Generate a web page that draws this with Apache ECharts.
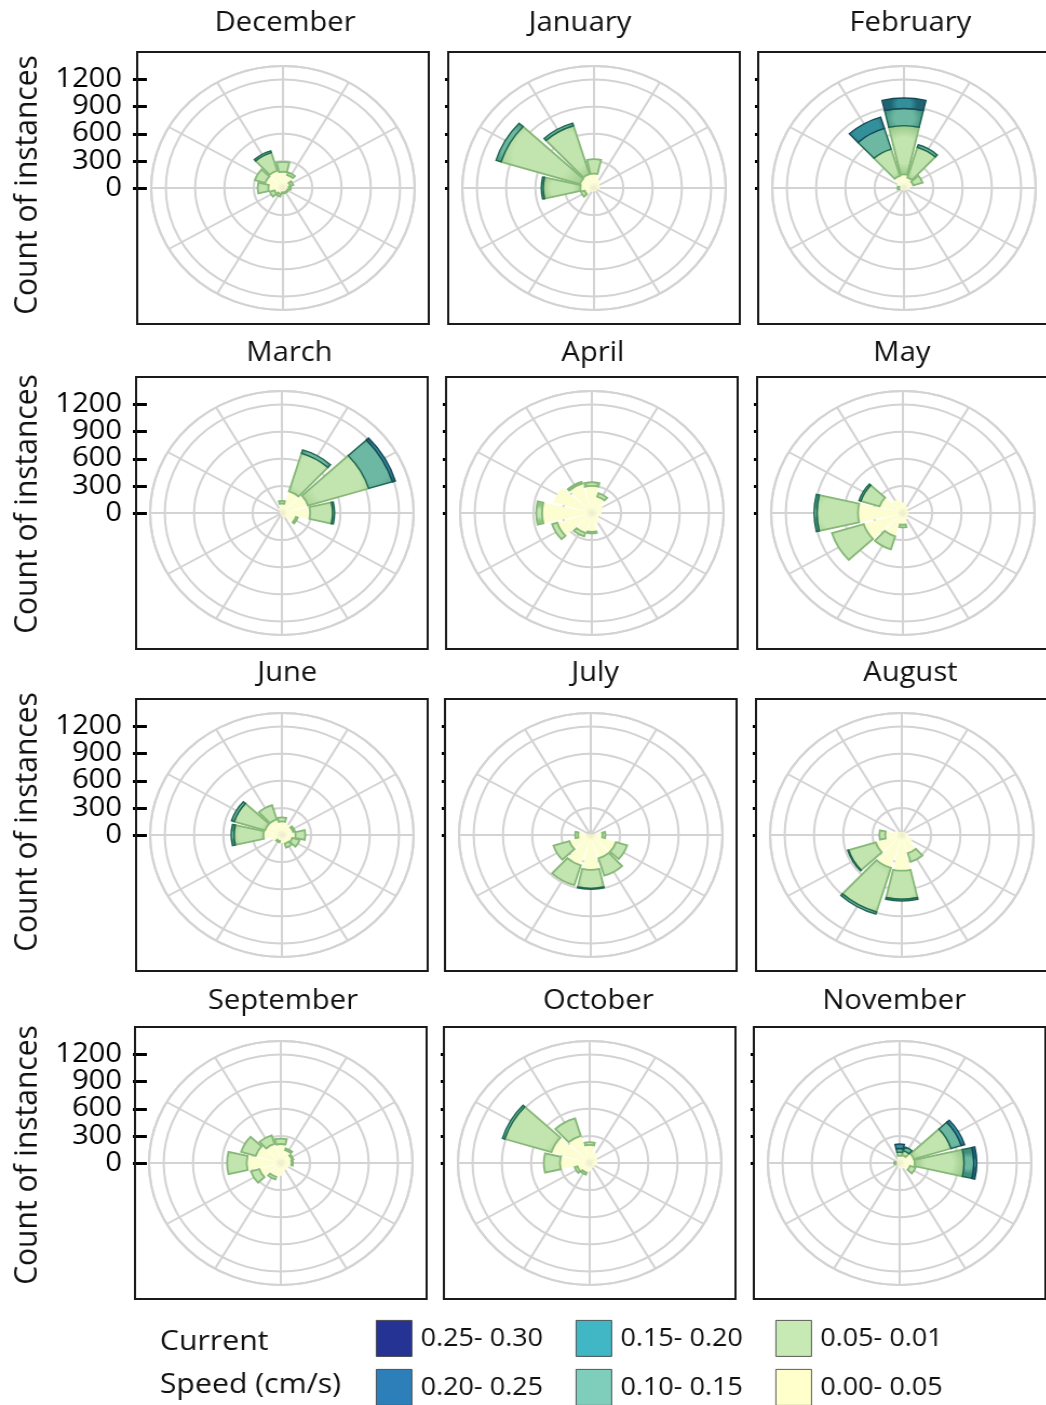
<!DOCTYPE html>
<html>
<head>
<meta charset="utf-8">
<title>Monthly current roses</title>
<script src="https://cdn.jsdelivr.net/npm/echarts@6.0.0/dist/echarts.min.js"></script>
<style>
  html, body { margin: 0; padding: 0; background: #fff; overflow: hidden; }
  #wrap { width: 1046px; height: 1405px; overflow: hidden; }
  /* the figure is laid out on a narrower canvas and widened horizontally */
  #chart { width: 969px; height: 1405px; transform: scaleX(1.08); transform-origin: 0 0; }
</style>
</head>
<body>
<div id="wrap"><div id="chart"></div></div>
<script>
// ---------------- data ----------------
const months = ['December', 'January', 'February', 'March', 'April', 'May',
                'June', 'July', 'August', 'September', 'October', 'November'];

// 30-degree direction sectors, clockwise from north
const sectors = ['0°', '30°', '60°', '90°', '120°', '150°', '180°', '210°', '240°', '270°', '300°', '330°'];

// current speed classes, slowest first (stacked from the centre outwards)
const speedBins = ['0.00- 0.05', '0.05- 0.01', '0.10- 0.15', '0.15- 0.20', '0.20- 0.25', '0.25- 0.30'];

// radial scale (count of instances)
const radialTicks = [0, 300, 600, 900, 1200];
const radialMax = 1350;

// counts per month: one row per speed class, one column per sector
const december = [
  [180, 150, 80, 60, 50, 50, 50, 70, 90, 150, 190, 200],
  [110, 30, 30, 20, 10, 10, 10, 30, 50, 110, 110, 210],
  [0, 0, 0, 0, 0, 0, 0, 0, 0, 0, 0, 20],
  [0, 0, 0, 0, 0, 0, 0, 0, 0, 0, 0, 0],
  [0, 0, 0, 0, 0, 0, 0, 0, 0, 0, 0, 0],
  [0, 0, 0, 0, 0, 0, 0, 0, 0, 0, 0, 0]
];
const january = [
  [160, 100, 70, 60, 40, 40, 40, 50, 100, 140, 150, 160],
  [160, 0, 0, 0, 0, 0, 0, 0, 40, 380, 845, 560],
  [0, 0, 0, 0, 0, 0, 0, 0, 0, 20, 55, 30],
  [0, 0, 0, 0, 0, 0, 0, 0, 0, 0, 0, 0],
  [0, 0, 0, 0, 0, 0, 0, 0, 0, 0, 0, 0],
  [0, 0, 0, 0, 0, 0, 0, 0, 0, 0, 0, 0]
];
const february = [
  [150, 120, 100, 60, 40, 30, 30, 30, 40, 50, 80, 140],
  [540, 350, 100, 0, 0, 0, 0, 0, 0, 15, 0, 310],
  [190, 30, 0, 0, 0, 0, 0, 0, 0, 0, 0, 240],
  [115, 0, 0, 0, 0, 0, 0, 0, 0, 0, 0, 130],
  [0, 0, 0, 0, 0, 0, 0, 0, 0, 0, 0, 0],
  [0, 0, 0, 0, 0, 0, 0, 0, 0, 0, 0, 0]
];
const march = [
  [105, 250, 280, 290, 150, 60, 40, 20, 20, 20, 30, 60],
  [30, 440, 650, 230, 20, 0, 0, 0, 0, 0, 0, 0],
  [0, 40, 255, 20, 0, 0, 0, 0, 0, 0, 0, 0],
  [0, 0, 30, 0, 0, 0, 0, 0, 0, 0, 0, 0],
  [0, 0, 0, 0, 0, 0, 0, 0, 0, 0, 0, 0],
  [0, 0, 0, 0, 0, 0, 0, 0, 0, 0, 0, 0]
];
const april = [
  [300, 190, 130, 100, 80, 130, 210, 230, 370, 510, 410, 340],
  [40, 40, 0, 0, 0, 0, 15, 40, 55, 60, 0, 20],
  [0, 0, 0, 0, 0, 0, 0, 0, 0, 0, 0, 0],
  [0, 0, 0, 0, 0, 0, 0, 0, 0, 0, 0, 0],
  [0, 0, 0, 0, 0, 0, 0, 0, 0, 0, 0, 0],
  [0, 0, 0, 0, 0, 0, 0, 0, 0, 0, 0, 0]
];
const may = [
  [120, 80, 60, 60, 60, 80, 130, 270, 420, 460, 250, 160],
  [0, 0, 0, 0, 0, 0, 30, 150, 340, 420, 200, 0],
  [0, 0, 0, 0, 0, 0, 0, 0, 0, 30, 20, 0],
  [0, 0, 0, 0, 0, 0, 0, 0, 0, 0, 0, 0],
  [0, 0, 0, 0, 0, 0, 0, 0, 0, 0, 0, 0],
  [0, 0, 0, 0, 0, 0, 0, 0, 0, 0, 0, 0]
];
const june = [
  [150, 130, 120, 140, 110, 100, 90, 70, 110, 190, 180, 180],
  [45, 0, 20, 100, 80, 45, 0, 15, 0, 300, 330, 165],
  [0, 0, 0, 0, 0, 0, 0, 0, 0, 30, 30, 0],
  [0, 0, 0, 0, 0, 0, 0, 0, 0, 0, 0, 0],
  [0, 0, 0, 0, 0, 0, 0, 0, 0, 0, 0, 0],
  [0, 0, 0, 0, 0, 0, 0, 0, 0, 0, 0, 0]
];
const july = [
  [10, 10, 20, 120, 270, 270, 385, 350, 230, 130, 20, 10],
  [0, 0, 0, 30, 120, 200, 205, 230, 170, 30, 0, 0],
  [0, 0, 0, 0, 0, 0, 10, 0, 0, 0, 0, 0],
  [0, 0, 0, 0, 0, 0, 0, 0, 0, 0, 0, 0],
  [0, 0, 0, 0, 0, 0, 0, 0, 0, 0, 0, 0],
  [0, 0, 0, 0, 0, 0, 0, 0, 0, 0, 0, 0]
];
const august = [
  [30, 40, 50, 70, 120, 210, 395, 380, 280, 170, 80, 40],
  [0, 0, 0, 0, 0, 100, 315, 510, 290, 60, 0, 0],
  [0, 0, 0, 0, 0, 0, 20, 25, 10, 0, 0, 0],
  [0, 0, 0, 0, 0, 0, 0, 0, 0, 0, 0, 0],
  [0, 0, 0, 0, 0, 0, 0, 0, 0, 0, 0, 0],
  [0, 0, 0, 0, 0, 0, 0, 0, 0, 0, 0, 0]
];
const september = [
  [210, 150, 120, 110, 90, 90, 140, 160, 230, 350, 270, 220],
  [60, 20, 15, 15, 0, 0, 0, 30, 90, 200, 155, 100],
  [0, 0, 0, 0, 0, 0, 0, 0, 0, 0, 0, 0],
  [0, 0, 0, 0, 0, 0, 0, 0, 0, 0, 0, 0],
  [0, 0, 0, 0, 0, 0, 0, 0, 0, 0, 0, 0],
  [0, 0, 0, 0, 0, 0, 0, 0, 0, 0, 0, 0]
];
const october = [
  [200, 130, 90, 80, 60, 60, 90, 110, 130, 305, 410, 315],
  [30, 0, 0, 0, 0, 0, 0, 25, 30, 165, 500, 200],
  [0, 0, 0, 0, 0, 0, 0, 0, 0, 0, 25, 0],
  [0, 0, 0, 0, 0, 0, 0, 0, 0, 0, 0, 0],
  [0, 0, 0, 0, 0, 0, 0, 0, 0, 0, 0, 0],
  [0, 0, 0, 0, 0, 0, 0, 0, 0, 0, 0, 0]
];
const november = [
  [80, 90, 150, 155, 110, 70, 60, 40, 30, 40, 40, 50],
  [40, 50, 400, 505, 60, 0, 0, 0, 0, 15, 0, 0],
  [40, 45, 110, 100, 0, 0, 0, 0, 0, 0, 0, 0],
  [50, 0, 35, 30, 0, 0, 0, 0, 0, 0, 0, 0],
  [0, 0, 0, 0, 0, 0, 0, 0, 0, 0, 0, 0],
  [0, 0, 0, 0, 0, 0, 0, 0, 0, 0, 0, 0]
];

const monthlyCounts = [december, january, february, march, april, may,
                       june, july, august, september, october, november];

// ---------------- layout & style ----------------
const FONT = 'Open Sans';
const POLAR_RADIUS = 122;               // px for radialMax
const BOX_W = 270, BOX_H = 272;
const SECTOR_DEG = 360 / sectors.length;

// rose centres, in the order of `months`
const panelCenters = [
  [262, 188], [550, 188], [837, 188],
  [261, 513], [548, 513], [836, 513],
  [261, 835], [547, 835], [835, 835],
  [260, 1163], [546, 1163], [833, 1163]
];
const titleAnchors = [
  [264, 23], [537, 23], [843, 23],
  [268, 353], [549, 353], [835, 353],
  [266, 673], [551, 673], [843, 673],
  [262, 1001], [554, 1001], [828, 1001]
];
const yNameRows = [185, 504, 822, 1155];

// swatch colours of the speed classes (YlGnBu)
const binColors = ['#ffffcc', '#c7e9b4', '#7fcdbb', '#41b6c4', '#2c7fb8', '#253494'];
// shaded wedge colours: [centre, rim, outline, outline width]
const binShades = [
  ['#fdfdd2', '#f8f8c8', null, 0],
  ['#c2e4ae', '#93c486', '#86b878', 1.8],
  ['#6db8a3', '#3e907c', '#1f6650', 1.4],
  ['#33909a', '#1f6473', '#164a5a', 1.4],
  ['#2c7fb8', '#205f8c', '#183f66', 1.4],
  ['#253494', '#1b2670', '#111a4f', 1.4]
];

function binStyle(b) {
  const s = binShades[b];
  if (!s[2]) return { color: s[0] };
  return {
    color: new echarts.graphic.RadialGradient(0.5, 0.5, 0.9, [
      { offset: 0, color: s[0] }, { offset: 0.5, color: s[0] }, { offset: 1, color: s[1] }
    ]),
    borderColor: s[2],
    borderWidth: s[3]
  };
}

const GRID_GREY = '#d3d3d3';
const tickPx = POLAR_RADIUS * radialTicks[radialTicks.length - 1] / radialMax;
const radialStep = radialTicks[1] - radialTicks[0];

const polar = [], angleAxis = [], radiusAxis = [], grid = [], xAxis = [], yAxis = [], series = [];
const graphic = [];
const hidden = { show: false };

panelCenters.forEach(([cx, cy], p) => {
  const col = p % 3;
  const gridPolar = 2 * p, dataPolar = 2 * p + 1;

  // background web: 12 spokes through the sector centres + count rings
  polar.push({ center: [cx, cy], radius: POLAR_RADIUS });
  angleAxis.push({
    polarIndex: gridPolar, type: 'value', min: 0, max: 360, interval: SECTOR_DEG,
    startAngle: 90, clockwise: true,
    axisLine: { show: true, lineStyle: { color: GRID_GREY, width: 2 } },
    axisTick: hidden, axisLabel: hidden, splitArea: hidden,
    splitLine: { show: true, lineStyle: { color: GRID_GREY, width: 2 } }
  });
  radiusAxis.push({
    polarIndex: gridPolar, type: 'value', min: 0, max: radialMax, interval: radialStep,
    axisLine: hidden, axisTick: hidden, axisLabel: hidden, splitArea: hidden,
    splitLine: { show: true, lineStyle: { color: GRID_GREY, width: 2 } }
  });

  // wedges: category sectors rotated so each one is centred on its spoke
  polar.push({ center: [cx, cy], radius: POLAR_RADIUS });
  angleAxis.push({
    polarIndex: dataPolar, type: 'category', data: sectors,
    startAngle: 90 + SECTOR_DEG / 2, clockwise: true, boundaryGap: true,
    axisLine: hidden, axisTick: hidden, axisLabel: hidden, splitLine: hidden, splitArea: hidden
  });
  radiusAxis.push({
    polarIndex: dataPolar, type: 'value', min: 0, max: radialMax,
    axisLine: hidden, axisTick: hidden, axisLabel: hidden, splitLine: hidden, splitArea: hidden
  });

  // vertical count scale at the left of each box
  const axisX = col === 0 ? 136 : cx - BOX_W / 2;
  grid.push({ left: axisX, top: cy - tickPx, width: 1, height: tickPx, outerBoundsMode: 'none', containLabel: false });
  xAxis.push({ gridIndex: p, type: 'value', show: false });
  yAxis.push({
    gridIndex: p, type: 'value', position: 'left',
    min: radialTicks[0], max: radialTicks[radialTicks.length - 1], interval: radialStep,
    axisLine: hidden, splitLine: hidden,
    axisTick: { show: true, length: col === 0 ? 13 : 3, lineStyle: { color: '#000', width: 3 } },
    axisLabel: {
      show: col === 0, color: '#000', fontSize: 27, fontFamily: FONT, margin: 23,
      formatter: v => String(v)
    }
  });

  monthlyCounts[p].forEach((vals, b) => {
    series.push({
      type: 'bar', coordinateSystem: 'polar', polarIndex: dataPolar,
      name: speedBins[b], stack: 'month' + p,
      data: vals.map(v => (v > 0 ? v : null)),
      barCategoryGap: '13%', silent: true,
      itemStyle: binStyle(b)
    });
  });

  graphic.push({
    type: 'rect', z: 20, silent: true,
    shape: { x: cx - BOX_W / 2, y: cy - BOX_H / 2, width: BOX_W, height: BOX_H },
    style: { fill: 'none', stroke: '#1a1a1a', lineWidth: 2 }
  });
  graphic.push({
    type: 'text', z: 20, silent: true, x: titleAnchors[p][0], y: titleAnchors[p][1],
    style: { text: months[p], fontSize: 27, fontFamily: FONT, fill: '#111', align: 'center', verticalAlign: 'middle' }
  });
});

yNameRows.forEach(y => {
  graphic.push({
    type: 'text', z: 20, silent: true, x: 25, y: y, rotation: Math.PI / 2,
    style: { text: 'Count of instances', fontSize: 30, fontFamily: FONT, fill: '#111', align: 'center', verticalAlign: 'middle' }
  });
});
graphic.push({
  type: 'text', z: 20, silent: true, x: 148, y: 1342,
  style: { text: 'Current', fontSize: 28, fontFamily: FONT, fill: '#111', align: 'left', verticalAlign: 'middle' }
});
graphic.push({
  type: 'text', z: 20, silent: true, x: 148, y: 1385,
  style: { text: 'Speed (cm/s)', fontSize: 28, fontFamily: FONT, fill: '#111', align: 'left', verticalAlign: 'middle' }
});

// legend: three columns of two classes, fastest class top-left
const legendOrder = [5, 4, 3, 2, 1, 0];
const legendSlots = [[348, 1320], [348, 1369], [533, 1320], [533, 1369], [718, 1320], [718, 1369]];
const legend = legendOrder.map((b, i) => ({
  orient: 'horizontal', left: legendSlots[i][0], top: legendSlots[i][1], padding: 0,
  itemWidth: 33, itemHeight: 36, icon: 'rect', selectedMode: false,
  data: [{ name: speedBins[b], itemStyle: { color: binColors[b], borderColor: '#333', borderWidth: 0.8 } }],
  textStyle: { fontSize: 25, fontFamily: FONT, color: '#111', padding: [0, 0, 0, 3] }
}));

const chart = echarts.init(document.getElementById('chart'), null, { renderer: 'canvas' });
chart.setOption({
  animation: false,
  backgroundColor: '#ffffff',
  textStyle: { fontFamily: FONT },
  polar, angleAxis, radiusAxis, grid, xAxis, yAxis, series, legend, graphic
});
</script>
</body>
</html>
